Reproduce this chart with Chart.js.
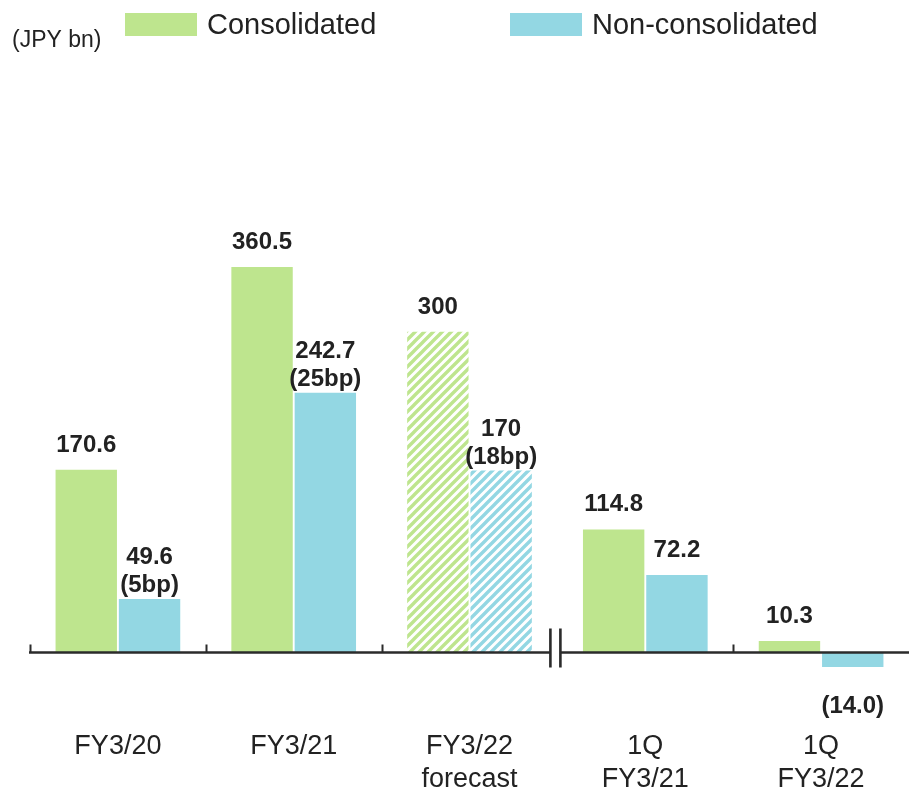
<!DOCTYPE html>
<html>
<head>
<meta charset="utf-8">
<script src="https://cdn.jsdelivr.net/npm/chart.js@4/dist/chart.umd.min.js"></script>
<style>
  html, body { margin: 0; padding: 0; background: #fff; }
  #wrap { position: relative; width: 909px; height: 791px; }
</style>
</head>
<body>
<div id="wrap"><canvas id="c"></canvas></div>
<script>
// Net income by period (JPY bn)
const categories = [['FY3/20'], ['FY3/21'], ['FY3/22', 'forecast'], ['1Q', 'FY3/21'], ['1Q', 'FY3/22']];
const consolidated = [170.6, 360.5, 300, 114.8, 10.3];
const nonConsolidated = [49.6, 242.7, 170, 72.2, -14.0];
const nonConsolidatedBp = [5, 25, 18, null, null];
const isForecast = [false, false, true, false, false];
const seriesNames = ['Consolidated', 'Non-consolidated'];
const unitLabel = '(JPY bn)';

const GREEN = '#BEE58E';
const BLUE = '#93D7E3';
const INK = '#222222';
const FONT = '"Liberation Sans", Arial, sans-serif';

// Diagonal hatch used for forecast bars
function hatch(color) {
  const s = 9;
  const cv = document.createElement('canvas');
  cv.width = s; cv.height = s;
  const g = cv.getContext('2d');
  g.fillStyle = '#ffffff';
  g.fillRect(0, 0, s, s);
  g.strokeStyle = color;
  g.lineWidth = 3.4;
  g.beginPath();
  g.moveTo(-1, s + 1); g.lineTo(s + 1, -1);
  g.moveTo(-s / 2 - 1, s / 2 + 1); g.lineTo(s / 2 + 1, -s / 2 - 1);
  g.moveTo(s / 2 - 1, s * 1.5 + 1); g.lineTo(s * 1.5 + 1, s / 2 - 1);
  g.stroke();
  return g.createPattern(cv, 'repeat');
}

function fills(color) {
  const p = hatch(color);
  return isForecast.map(f => f ? p : color);
}

function fmt(v, forecast) {
  const a = Math.abs(v);
  const s = forecast ? String(Math.round(a)) : a.toFixed(1);
  return v < 0 ? '(' + s + ')' : s;
}

// Baseline with category dividers and an axis break before the quarterly bars
const axisPlugin = {
  id: 'axisLine',
  afterDatasetsDraw(chart) {
    const { ctx, scales: { x, y }, chartArea } = chart;
    const y0 = Math.round(y.getPixelForValue(0)) + 0.5;
    const step = x.getPixelForValue(1) - x.getPixelForValue(0);
    const brk = (x.getPixelForValue(2) + x.getPixelForValue(3)) / 2;
    ctx.save();
    ctx.strokeStyle = '#2b2b2b';
    ctx.lineWidth = 2.6;
    ctx.beginPath();
    ctx.moveTo(chartArea.left - 1, y0); ctx.lineTo(brk - 7, y0);
    ctx.moveTo(brk + 3, y0); ctx.lineTo(chart.width, y0);
    ctx.stroke();
    ctx.lineWidth = 2;
    ctx.beginPath();
    [0, 1, 2, 4].forEach(i => {
      const tx = Math.round(x.getPixelForValue(i) - step / 2) + 0.5;
      ctx.moveTo(tx, y0 - 8); ctx.lineTo(tx, y0);
    });
    ctx.stroke();
    ctx.lineWidth = 2.6;
    ctx.beginPath();
    ctx.moveTo(brk - 7, y0 - 24); ctx.lineTo(brk - 7, y0 + 15);
    ctx.moveTo(brk + 3, y0 - 24); ctx.lineTo(brk + 3, y0 + 15);
    ctx.stroke();
    ctx.restore();
  }
};

// Value labels above (or below, for losses) each bar
const valuePlugin = {
  id: 'values',
  afterDatasetsDraw(chart) {
    const { ctx } = chart;
    ctx.save();
    ctx.fillStyle = INK;
    ctx.font = 'bold 24px ' + FONT;
    ctx.textAlign = 'center';
    ctx.textBaseline = 'alphabetic';
    chart.data.datasets.forEach((ds, di) => {
      chart.getDatasetMeta(di).data.forEach((el, i) => {
        const v = ds.data[i];
        const txt = fmt(v, isForecast[i]);
        if (v < 0) {
          ctx.fillText(txt, el.x, el.y + 46);
          return;
        }
        const bp = di === 1 ? nonConsolidatedBp[i] : null;
        if (bp != null) {
          ctx.fillText('(' + bp + 'bp)', el.x, el.y - 7);
          ctx.fillText(txt, el.x, el.y - 35);
        } else {
          ctx.fillText(txt, el.x, el.y - 18);
        }
      });
    });
    ctx.restore();
  }
};

// Unit caption and series key
const keyPlugin = {
  id: 'key',
  afterDraw(chart) {
    const { ctx } = chart;
    ctx.save();
    ctx.fillStyle = INK;
    ctx.textBaseline = 'middle';
    ctx.textAlign = 'left';
    ctx.font = '23px ' + FONT;
    ctx.fillText(unitLabel, 12, 41);
    ctx.font = '29px ' + FONT;
    const items = [[125, GREEN], [510, BLUE]];
    items.forEach(([bx, col], k) => {
      ctx.fillStyle = col;
      ctx.fillRect(bx, 13, 72, 23);
      ctx.fillStyle = INK;
      ctx.fillText(seriesNames[k], bx + 82, 26);
    });
    ctx.restore();
  }
};

new Chart(document.getElementById('c'), {
  type: 'bar',
  data: {
    labels: categories,
    datasets: [
      { label: seriesNames[0], data: consolidated, backgroundColor: fills(GREEN), borderWidth: 0 },
      { label: seriesNames[1], data: nonConsolidated, backgroundColor: fills(BLUE), borderWidth: 0 }
    ]
  },
  options: {
    responsive: true,
    maintainAspectRatio: false,
    animation: false,
    devicePixelRatio: 1,
    layout: { padding: { left: 30, right: 0, top: 80, bottom: -15 } },
    datasets: { bar: { categoryPercentage: 0.72, barPercentage: 0.97 } },
    plugins: { legend: { display: false }, tooltip: { enabled: false } },
    scales: {
      x: {
        grid: { display: false, drawTicks: false },
        border: { display: false },
        ticks: {
          color: INK,
          padding: 10,
          font: { family: FONT, size: 27, lineHeight: 1.22 },
          maxRotation: 0,
          autoSkip: false
        }
      },
      y: {
        display: false,
        min: -63.7,
        max: 535.6
      }
    }
  },
  plugins: [axisPlugin, valuePlugin, keyPlugin]
});
</script>
</body>
</html>
